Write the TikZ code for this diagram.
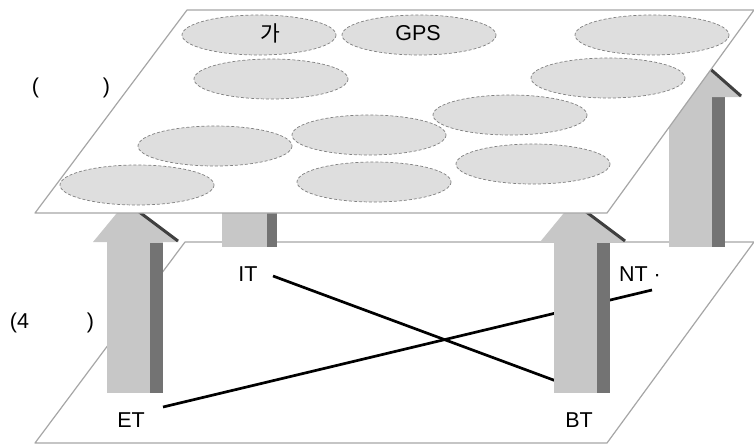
\documentclass[tikz,border=0pt]{standalone}
\usepackage{fontspec}
\setmainfont{Liberation Sans}
\newfontfamily\krfont{Noto Sans CJK KR}
\begin{document}
\begin{tikzpicture}[
		x = 1pt, y = -1pt, % pixel grid of the scan
		line join = round,
		font = \fontsize{21.5}{25}\selectfont
		]
		
		\tikzstyle{plane}=[
		draw = black!35,
		line width = 1.2pt,
		fill = white
		]
		\tikzstyle{cloud}=[
		draw = black!50,
		densely dashed,
		line width = 0.7pt,
		fill = black!13
		]
		\tikzstyle{shaft}=[fill = black!22]
		\tikzstyle{strip}=[fill = black!55]
		\tikzstyle{rim}=[draw = black!75, line width = 3pt]
		\tikzstyle{link}=[draw = black, line width = 2.7pt]
		\tikzstyle{tag}=[inner sep = 1pt]
		
		\useasboundingbox (0,0) rectangle (754,445);
		
		% lower plane
		\draw[plane] (185,242) -- (754,242) -- (607,443) -- (35,443) -- cycle;
		
		\node[tag] (IT) at (248,274) {IT};
		\node[tag] (NT) at (640,274) {NT ·};
		\node[tag] (ET) at (131,420) {ET};
		\node[tag] (BT) at (579,420) {BT};
		\node[tag] (low) at (52,323) {(4\hspace{58pt})};
		
		\coordinate (itend) at (273,276);
		\coordinate (btend) at (575,388);
		\coordinate (etend) at (163,407);
		\coordinate (ntend) at (652,290);
		
		\draw[link] (itend) -- (btend);
		\draw[link] (etend) -- (ntend);
		
		% arrows ET and BT
		\foreach \x in {107, 554} {
			\fill[shaft] (\x,242) rectangle (\x+56,393);
			\fill[strip] (\x+43,243) rectangle (\x+56,393);
			\fill[shaft] (\x-14,242) -- (\x+19,202) -- (\x+72,242) -- cycle;
			\draw[rim] (\x+19,202) -- (\x+71,241);
		}
		
		% arrow at the right and stub of IT
		\fill[shaft] (669,96) rectangle (725,247);
		\fill[strip] (712,97) rectangle (725,247);
		\fill[shaft] (650,97) -- (708,67) -- (742,97) -- cycle;
		\draw[rim] (708,67) -- (741,96);
		\fill[shaft] (222,205) rectangle (277,247);
		\fill[strip] (267,205) rectangle (277,247);
		
		% upper plane
		\draw[plane] (187,10) -- (754,10) -- (607,213) -- (35,213) -- cycle;
		
		\foreach \cx/\cy in {259/35, 419/35, 652/35, 271/79, 608/78, 510/115,
			215/146, 369/135, 137/185, 374/182, 533/164} {
			\draw[cloud] (\cx,\cy) ellipse [x radius = 77, y radius = 20];
		}
		
		\node[tag] (ga) at (270,33) {\krfont 가};
		\node[tag] (GPS) at (418,33) {GPS};
		\node[tag] (up) at (71,88) {(\hspace{64pt})};
		
		\end{tikzpicture}
\end{document}
